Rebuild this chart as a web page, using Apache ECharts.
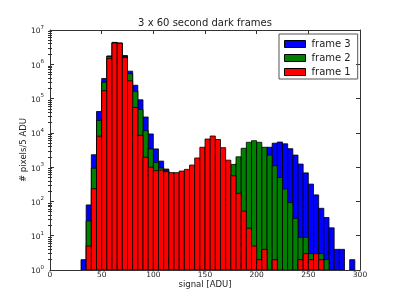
<!DOCTYPE html>
<html>
<head>
<meta charset="utf-8">
<script src="https://cdn.jsdelivr.net/npm/echarts@6/dist/echarts.min.js"></script>
<style>
html,body{margin:0;padding:0;background:#fff;}
#chart{width:400px;height:300px;}
</style>
</head>
<body>
<div id="chart"></div>
<script>
// Bin start values (ADU), bin width 5
var binStarts = [30,35,40,45,50,55,60,65,70,75,80,85,90,95,100,105,110,115,120,125,130,135,140,145,150,155,160,165,170,175,180,185,190,195,200,205,210,215,220,225,230,235,240,245,250,255,260,265,270,275,280,285,290];
var binWidth = 5;
var frame3 = [2,79,2300,42000,385000,1750000,4350000,4150000,1800000,630000,245000,92000,29000,9300,3400,1500,880,660,650,640,650,660,680,700,720,750,780,820,880,1000,1300,1800,2500,3200,3700,3600,3800,5000,5400,4800,3450,2250,1230,680,320,155,63,34,17,4,4,null,2];
var frame2 = [null,27,930,23000,300000,1700000,4300000,4120000,1700000,530000,163000,48000,11600,3400,1380,950,780,650,620,600,620,650,700,720,760,800,850,900,1000,1200,2000,3550,5300,5900,5300,3800,2250,1100,500,230,92,32,9,9,3,3,3,2,null,null,null,null,null];
var frame1 = [null,5,235,8000,170000,1480000,4200000,4100000,1580000,330000,55000,8500,1950,1000,790,820,740,690,690,770,860,1150,1850,3800,6600,8100,6400,3700,1600,560,173,52,16.5,5,2,4,null,2,null,null,null,null,2,3,2,3,2,null,null,null,null,null,null];
var seriesNames = ['frame 3','frame 2','frame 1'];
var seriesColors = ['#0000ff','#008000','#ff0000'];
var xTicks = [0,50,100,150,200,250,300];
var yMajorTicks = [1,10,100,1000,10000,100000,1000000,10000000];
var yMinorTicks = [];
for (var k = 0; k < 7; k++) { for (var m = 2; m <= 9; m++) { yMinorTicks.push(m * Math.pow(10, k)); } }

var FONT = 'DejaVu Sans';
var TXT = '#222';
var LINE = '#333';

function toData(vals){
  var out = [];
  for (var i = 0; i < binStarts.length; i++) {
    if (vals[i] != null) out.push([binStarts[i], vals[i]]);
  }
  return out;
}

function makeSeries(name, vals, color, z){
  return {
    type: 'custom',
    name: name,
    xAxisIndex: 0,
    yAxisIndex: 0,
    z: z,
    clip: true,
    itemStyle: {color: color, borderColor: '#000', borderWidth: 1},
    encode: {x: 0, y: 1},
    data: toData(vals),
    renderItem: function(params, api){
      var x = api.value(0), v = api.value(1);
      var pTop = api.coord([x, v]);
      var pBot = api.coord([x + binWidth, 1]);
      return {
        type: 'rect',
        shape: {x: pTop[0], y: pTop[1], width: pBot[0] - pTop[0], height: pBot[1] - pTop[1]},
        style: {fill: color, stroke: '#000', lineWidth: 0.8}
      };
    }
  };
}

var chart = echarts.init(document.getElementById('chart'), null, {renderer: 'canvas'});

function logAxis(pos, opts){
  var base = {
    type: 'log', logBase: 10, min: 1, max: 10000000, position: pos,
    splitLine: {show: false},
    axisLine: {show: false},
    axisLabel: {show: false},
    axisTick: {show: false}
  };
  for (var key in opts) base[key] = opts[key];
  return base;
}

var option = {
  animation: false,
  backgroundColor: '#fff',
  title: {
    text: '3 x 60 second dark frames',
    left: 205, top: 18, textAlign: 'center', padding: 0,
    textStyle: {fontFamily: FONT, fontSize: 10, fontWeight: 'normal', color: TXT}
  },
  legend: {
    data: seriesNames,
    orient: 'vertical',
    left: 279, top: 34,
    padding: [5, 7, 2, 5],
    itemWidth: 21, itemHeight: 7, itemGap: 4,
    borderColor: '#555', borderWidth: 1,
    icon: 'rect',
    itemStyle: {borderColor: '#000', borderWidth: 1},
    textStyle: {fontFamily: FONT, fontSize: 10, color: TXT, lineHeight: 10, padding: [0,0,0,1]}
  },
  grid: {left: 50, right: 40, top: 30, bottom: 30, containLabel: false},
  xAxis: [
    {
      type: 'value', min: 0, max: 300, interval: 50, position: 'bottom',
      name: 'signal [ADU]', nameLocation: 'middle', nameGap: 10, nameMoveOverlap: false,
      nameTextStyle: {fontFamily: FONT, fontSize: 8.5, color: TXT, verticalAlign: 'top'},
      splitLine: {show: false},
      axisLine: {show: true, onZero: false, lineStyle: {color: LINE, width: 1}},
      axisTick: {show: true, inside: true, length: 4, lineStyle: {color: LINE}},
      axisLabel: {show: true, margin: 1, fontFamily: FONT, fontSize: 7.5, color: TXT, customValues: xTicks}
    },
    {
      type: 'value', min: 0, max: 300, interval: 50, position: 'top',
      splitLine: {show: false},
      axisLine: {show: true, onZero: false, lineStyle: {color: LINE, width: 1}},
      axisTick: {show: true, inside: true, length: 4, lineStyle: {color: LINE}},
      axisLabel: {show: false}
    }
  ],
  yAxis: [
    logAxis('left', {
      name: '# pixels/5 ADU', nameLocation: 'middle', nameGap: 22, nameRotate: 90, nameMoveOverlap: false,
      nameTextStyle: {fontFamily: FONT, fontSize: 8.5, color: TXT},
      axisLine: {show: true, onZero: false, lineStyle: {color: LINE, width: 1}},
      axisTick: {show: true, inside: true, length: 4, lineStyle: {color: LINE}, customValues: yMajorTicks},
      axisLabel: {
        show: true, margin: 6, customValues: yMajorTicks,
        formatter: function(v){ return '{b|10}{s|' + Math.round(Math.log10(v)) + '}'; },
        rich: {
          b: {fontFamily: FONT, fontSize: 7.5, color: TXT, verticalAlign: 'bottom', lineHeight: 11},
          s: {fontFamily: FONT, fontSize: 5.5, color: TXT, verticalAlign: 'top', lineHeight: 11}
        }
      }
    }),
    logAxis('left', {
      axisTick: {show: true, inside: true, length: 2, lineStyle: {color: LINE}, customValues: yMinorTicks}
    }),
    logAxis('right', {
      axisLine: {show: true, onZero: false, lineStyle: {color: LINE, width: 1}},
      axisTick: {show: true, inside: true, length: 4, lineStyle: {color: LINE}, customValues: yMajorTicks}
    }),
    logAxis('right', {
      axisTick: {show: true, inside: true, length: 2, lineStyle: {color: LINE}, customValues: yMinorTicks}
    })
  ],
  series: [
    makeSeries(seriesNames[0], frame3, seriesColors[0], 2),
    makeSeries(seriesNames[1], frame2, seriesColors[1], 3),
    makeSeries(seriesNames[2], frame1, seriesColors[2], 4)
  ]
};
chart.setOption(option);
</script>
</body>
</html>
